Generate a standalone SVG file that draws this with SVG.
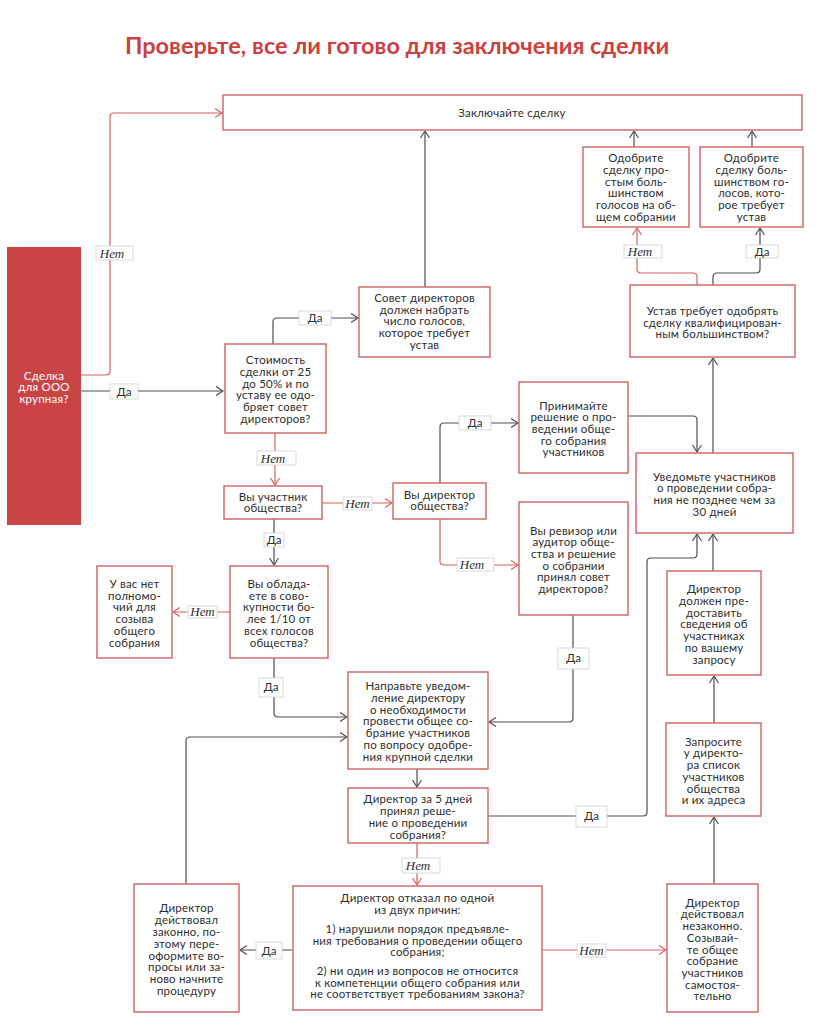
<svg xmlns="http://www.w3.org/2000/svg" width="824" height="1028" viewBox="0 0 824 1028">
<defs>
<style>
.box{fill:#fff;stroke:#cf6b6b;stroke-width:1.5}
.t{font-family:Lato,"Open Sans","Liberation Sans",sans-serif;font-size:11.5px;fill:#2e2e2e;text-anchor:middle;letter-spacing:0.2px}
.g{fill:none;stroke:#4d4d4d;stroke-width:1.2}
.r{fill:none;stroke:#d4605e;stroke-width:1.2}
.lb{fill:#fff;stroke:#cfcfcf;stroke-width:0.8}
.da{font-family:Lato,"Open Sans","Liberation Sans",sans-serif;font-size:11.5px;fill:#2e2e2e;text-anchor:middle}
.net{font-family:"Liberation Serif","DejaVu Serif",serif;font-style:italic;font-size:13px;fill:#2e2e2e;text-anchor:middle}
</style>
<marker id="ag" viewBox="0 0 8 10" refX="7.5" refY="5" markerWidth="8" markerHeight="10" markerUnits="userSpaceOnUse" orient="auto"><path d="M0.5,0.5 L7.5,5 L0.5,9.5" fill="none" stroke="#4d4d4d" stroke-width="1.2"/></marker>
<marker id="ar" viewBox="0 0 8 10" refX="7.5" refY="5" markerWidth="8" markerHeight="10" markerUnits="userSpaceOnUse" orient="auto"><path d="M0.5,0.5 L7.5,5 L0.5,9.5" fill="none" stroke="#d4605e" stroke-width="1.2"/></marker>
</defs>
<rect width="824" height="1028" fill="#fff"/>
<text x="397" y="54" font-family="Lato,'Open Sans','Liberation Sans',sans-serif" font-weight="bold" font-size="23.5px" fill="#c8423f" text-anchor="middle">Проверьте, все ли готово для заключения сделки</text>

<g id="connectors">
<path class="r" d="M81,375 H106 Q110,375 110,371 V117 Q110,113 114,113 H222" marker-end="url(#ar)"/>
<path class="g" d="M81,391 H223" marker-end="url(#ag)"/>
<path class="g" d="M273,344 V322 Q273,318 277,318 H358" marker-end="url(#ag)"/>
<path class="g" d="M425,287 V131" marker-end="url(#ag)"/>
<path class="r" d="M275,433 V485" marker-end="url(#ar)"/>
<path class="r" d="M322,503 H392" marker-end="url(#ar)"/>
<path class="g" d="M440,483 V427 Q440,423 444,423 H518" marker-end="url(#ag)"/>
<path class="r" d="M440,519 V561 Q440,565 444,565 H518" marker-end="url(#ar)"/>
<path class="g" d="M628,416 H693 Q697,416 697,420 V452" marker-end="url(#ag)"/>
<path class="g" d="M713,453 V358" marker-end="url(#ag)"/>
<path class="r" d="M697,285 V277 Q697,273 693,273 H641 Q637,273 637,269 V228" marker-end="url(#ar)"/>
<path class="g" d="M713,285 V277 Q713,273 717,273 H756 Q760,273 760,269 V228" marker-end="url(#ag)"/>
<path class="g" d="M634,147 V131" marker-end="url(#ag)"/>
<path class="g" d="M752,147 V131" marker-end="url(#ag)"/>
<path class="g" d="M274,519 V565" marker-end="url(#ag)"/>
<path class="r" d="M230,612 H173" marker-end="url(#ar)"/>
<path class="g" d="M274,658 V713 Q274,717 278,717 H347" marker-end="url(#ag)"/>
<path class="g" d="M573,615 V718 Q573,722 569,722 H489" marker-end="url(#ag)"/>
<path class="g" d="M186,884 V741 Q186,737 190,737 H347" marker-end="url(#ag)"/>
<path class="g" d="M417,769 V787" marker-end="url(#ag)"/>
<path class="g" d="M488,816 H643 Q647,816 647,812 V562 Q647,558 651,558 H693 Q697,558 697,554 V534" marker-end="url(#ag)"/>
<path class="g" d="M713,571 V534" marker-end="url(#ag)"/>
<path class="g" d="M714,723 V676" marker-end="url(#ag)"/>
<path class="g" d="M714,884 V817" marker-end="url(#ag)"/>
<path class="r" d="M417,843 V885" marker-end="url(#ar)"/>
<path class="g" d="M292,950 H240" marker-end="url(#ag)"/>
<path class="r" d="M542,950 H666" marker-end="url(#ar)"/>

<rect class="lb" x="96" y="246" width="37" height="14"/><text class="net" x="112" y="257.5">Нет</text>
<rect class="lb" x="110" y="384" width="28" height="15"/><text class="da" x="124" y="395.5">Да</text>
<rect class="lb" x="299" y="311" width="32" height="14"/><text class="da" x="315" y="322">Да</text>
<rect class="lb" x="257" y="451" width="39" height="14"/><text class="net" x="273" y="462.5">Нет</text>
<rect class="lb" x="343" y="497" width="29" height="13"/><text class="net" x="357.5" y="507.5">Нет</text>
<rect class="lb" x="459" y="416" width="32" height="14"/><text class="da" x="475" y="427">Да</text>
<rect class="lb" x="457" y="558" width="37" height="13"/><text class="net" x="472" y="568.5">Нет</text>
<rect class="lb" x="624" y="245" width="38" height="13"/><text class="net" x="640" y="255.5">Нет</text>
<rect class="lb" x="746" y="245" width="32" height="13"/><text class="da" x="762" y="256">Да</text>
<rect class="lb" x="264" y="533" width="20" height="14"/><text class="da" x="274" y="544">Да</text>
<rect class="lb" x="188" y="606" width="29" height="12"/><text class="net" x="202.5" y="616">Нет</text>
<rect class="lb" x="259" y="678" width="24" height="19"/><text class="da" x="271" y="691">Да</text>
<rect class="lb" x="558" y="648" width="31" height="21"/><text class="da" x="573.5" y="662">Да</text>
<rect class="lb" x="576" y="806" width="31" height="21"/><text class="da" x="591.5" y="820">Да</text>
<rect class="lb" x="402" y="858" width="38" height="15"/><text class="net" x="418" y="869.5">Нет</text>
<rect class="lb" x="256" y="942" width="26" height="17"/><text class="da" x="269" y="954.5">Да</text>
<rect class="lb" x="577" y="944" width="29" height="13"/><text class="net" x="591.5" y="954.5">Нет</text>
</g>

<g id="n-zakl"><rect class="box" x="223" y="95" width="579" height="35"/><text class="t" x="512" y="117">Заключайте сделку</text></g>

<g id="n-start"><rect x="7" y="247" width="74" height="278" fill="#c94444"/><text class="t" style="fill:#fff"><tspan x="44" y="379.5">Сделка</tspan><tspan x="44" y="391.2">для ООО</tspan><tspan x="44" y="402.9">крупная?</tspan></text></g>

<g id="n-cost"><rect class="box" x="225" y="344" width="101" height="89"/><text class="t"><tspan x="275.5" y="364">Стоимость</tspan><tspan x="275.5" y="375.8">сделки от 25</tspan><tspan x="275.5" y="387.6">до 50% и по</tspan><tspan x="275.5" y="399.4">уставу ее одо-</tspan><tspan x="275.5" y="411.2">бряет совет</tspan><tspan x="275.5" y="423">директоров?</tspan></text></g>

<g id="n-sovet"><rect class="box" x="359" y="287" width="131" height="70"/><text class="t"><tspan x="424.5" y="302">Совет директоров</tspan><tspan x="424.5" y="313.7">должен набрать</tspan><tspan x="424.5" y="325.4">число голосов,</tspan><tspan x="424.5" y="337.1">которое требует</tspan><tspan x="424.5" y="348.8">устав</tspan></text></g>

<g id="n-uchast"><rect class="box" x="224" y="486" width="98" height="33"/><text class="t"><tspan x="273" y="500.7">Вы участник</tspan><tspan x="273" y="512.3">общества?</tspan></text></g>

<g id="n-dir"><rect class="box" x="393" y="483" width="93" height="36"/><text class="t"><tspan x="439.5" y="498.5">Вы директор</tspan><tspan x="439.5" y="510">общества?</tspan></text></g>

<g id="n-prin"><rect class="box" x="519" y="382" width="109" height="91"/><text class="t"><tspan x="573.5" y="409.7">Принимайте</tspan><tspan x="573.5" y="421.3">решение о про-</tspan><tspan x="573.5" y="433">ведении обще-</tspan><tspan x="573.5" y="444.7">го собрания</tspan><tspan x="573.5" y="456.3">участников</tspan></text></g>

<g id="n-reviz"><rect class="box" x="519" y="502" width="109" height="113"/><text class="t"><tspan x="573.5" y="534.7">Вы ревизор или</tspan><tspan x="573.5" y="546.3">аудитор обще-</tspan><tspan x="573.5" y="558">ства и решение</tspan><tspan x="573.5" y="569.7">о  собрании</tspan><tspan x="573.5" y="581.3">принял совет</tspan><tspan x="573.5" y="593">директоров?</tspan></text></g>

<g id="n-uved"><rect class="box" x="636" y="453" width="157" height="80"/><text class="t"><tspan x="714.5" y="480.7">Уведомьте участников</tspan><tspan x="714.5" y="492.3">о проведении собра-</tspan><tspan x="714.5" y="503.9">ния не позднее чем за</tspan><tspan x="714.5" y="515.5">30 дней</tspan></text></g>

<g id="n-ustav"><rect class="box" x="630" y="285" width="165" height="72"/><text class="t"><tspan x="712.5" y="315">Устав требует одобрять</tspan><tspan x="712.5" y="326.7">сделку квалифицирован-</tspan><tspan x="712.5" y="338.4">ным большинством?</tspan></text></g>

<g id="n-odob1"><rect class="box" x="583" y="147" width="106" height="80"/><text class="t"><tspan x="636" y="162.3">Одобрите</tspan><tspan x="636" y="174">сделку про-</tspan><tspan x="636" y="185.7">стым боль-</tspan><tspan x="636" y="197.4">шинством</tspan><tspan x="636" y="209.1">голосов на об-</tspan><tspan x="636" y="220.8">щем собрании</tspan></text></g>

<g id="n-odob2"><rect class="box" x="700" y="147" width="103" height="80"/><text class="t"><tspan x="751.5" y="162.3">Одобрите</tspan><tspan x="751.5" y="174">сделку боль-</tspan><tspan x="751.5" y="185.7">шинством го-</tspan><tspan x="751.5" y="197.4">лосов, кото-</tspan><tspan x="751.5" y="209.1">рое требует</tspan><tspan x="751.5" y="220.8">устав</tspan></text></g>

<g id="n-net"><rect class="box" x="97" y="566" width="75" height="92"/><text class="t"><tspan x="134.5" y="588">У вас нет</tspan><tspan x="134.5" y="599.7">полномо-</tspan><tspan x="134.5" y="611.4">чий для</tspan><tspan x="134.5" y="623.1">созыва</tspan><tspan x="134.5" y="634.8">общего</tspan><tspan x="134.5" y="646.5">собрания</tspan></text></g>

<g id="n-10"><rect class="box" x="230" y="566" width="98" height="92"/><text class="t"><tspan x="279" y="588">Вы облада-</tspan><tspan x="279" y="599.7">ете в сово-</tspan><tspan x="279" y="611.4">купности бо-</tspan><tspan x="279" y="623.1">лее 1/10 от</tspan><tspan x="279" y="634.8">всех голосов</tspan><tspan x="279" y="646.5">общества?</tspan></text></g>

<g id="n-napr"><rect class="box" x="348" y="672" width="140" height="97"/><text class="t"><tspan x="418" y="690">Направьте уведом-</tspan><tspan x="418" y="701.8">ление директору</tspan><tspan x="418" y="713.6">о необходимости</tspan><tspan x="418" y="725.4">провести общее со-</tspan><tspan x="418" y="737.2">брание участников</tspan><tspan x="418" y="749">по вопросу одобре-</tspan><tspan x="418" y="760.8">ния крупной сделки</tspan></text></g>

<g id="n-5"><rect class="box" x="348" y="788" width="140" height="55"/><text class="t"><tspan x="418" y="803.3">Директор за 5 дней</tspan><tspan x="418" y="815.2">принял реше-</tspan><tspan x="418" y="827.1">ние о проведении</tspan><tspan x="418" y="839">собрания?</tspan></text></g>

<g id="n-sved"><rect class="box" x="667" y="571" width="94" height="104"/><text class="t"><tspan x="714" y="593.3">Директор</tspan><tspan x="714" y="605">должен пре-</tspan><tspan x="714" y="616.7">доставить</tspan><tspan x="714" y="628.4">сведения об</tspan><tspan x="714" y="640.1">участниках</tspan><tspan x="714" y="651.8">по вашему</tspan><tspan x="714" y="663.5">запросу</tspan></text></g>

<g id="n-zapr"><rect class="box" x="666" y="723" width="95" height="93"/><text class="t"><tspan x="713.5" y="745.7">Запросите</tspan><tspan x="713.5" y="757.4">у директо-</tspan><tspan x="713.5" y="769.1">ра список</tspan><tspan x="713.5" y="780.8">участников</tspan><tspan x="713.5" y="792.5">общества</tspan><tspan x="713.5" y="804.2">и их адреса</tspan></text></g>

<g id="n-zakon"><rect class="box" x="134" y="884" width="105" height="128"/><text class="t"><tspan x="186.5" y="912.3">Директор</tspan><tspan x="186.5" y="924.1">действовал</tspan><tspan x="186.5" y="935.9">законно, по-</tspan><tspan x="186.5" y="947.7">этому пере-</tspan><tspan x="186.5" y="959.5">оформите во-</tspan><tspan x="186.5" y="971.3">просы или за-</tspan><tspan x="186.5" y="983.1">ново начните</tspan><tspan x="186.5" y="994.9">процедуру</tspan></text></g>

<g id="n-otkaz"><rect class="box" x="293" y="886" width="249" height="124"/><text class="t"><tspan x="417.5" y="901.7">Директор отказал по одной</tspan><tspan x="417.5" y="913.5">из двух причин:</tspan><tspan x="417.5" y="933.3">1) нарушили порядок предъявле-</tspan><tspan x="417.5" y="944.8">ния требования о проведении общего</tspan><tspan x="417.5" y="956.3">собрания;</tspan><tspan x="417.5" y="975">2) ни один из вопросов не относится</tspan><tspan x="417.5" y="986.6">к компетенции общего собрания или</tspan><tspan x="417.5" y="998.2">не соответствует требованиям закона?</tspan></text></g>

<g id="n-nezak"><rect class="box" x="667" y="884" width="91" height="128"/><text class="t"><tspan x="712.5" y="906.7">Директор</tspan><tspan x="712.5" y="918.4">действовал</tspan><tspan x="712.5" y="930.1">незаконно.</tspan><tspan x="712.5" y="941.8">Созывай-</tspan><tspan x="712.5" y="953.5">те общее</tspan><tspan x="712.5" y="965.2">собрание</tspan><tspan x="712.5" y="976.9">участников</tspan><tspan x="712.5" y="988.6">самостоя-</tspan><tspan x="712.5" y="1000.3">тельно</tspan></text></g>
</svg>
